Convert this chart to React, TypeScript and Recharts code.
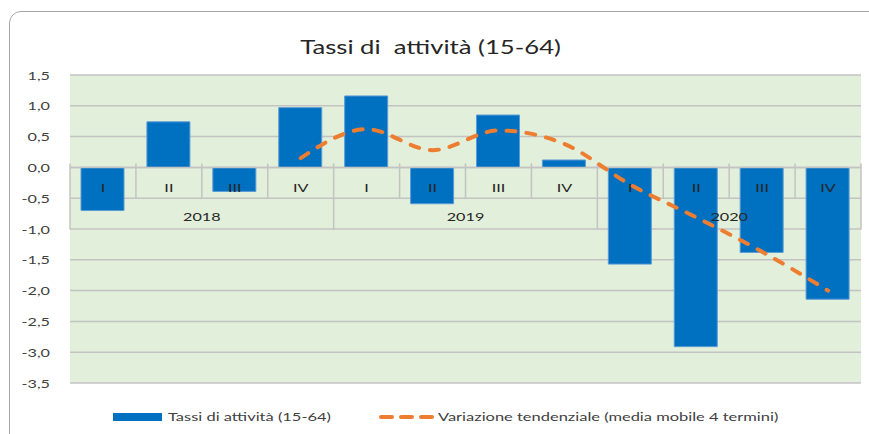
import React from 'react';
import { ComposedChart, Bar, Line, XAxis, YAxis, CartesianGrid, ReferenceLine, Legend } from 'recharts';

const quarters = ['I', 'II', 'III', 'IV', 'I', 'II', 'III', 'IV', 'I', 'II', 'III', 'IV'];
const years = ['2018', '2019', '2020'];
const tassi = [-0.7, 0.74, -0.39, 0.97, 1.16, -0.59, 0.85, 0.12, -1.57, -2.91, -1.38, -2.14];
const media: (number | null)[] = [null, null, null, 0.15, 0.62, 0.28, 0.6, 0.38, -0.28, -0.81, -1.37, -2.0];
const yTicks = [1.5, 1.0, 0.5, 0, -0.5, -1.0, -1.5, -2.0, -2.5, -3.0, -3.5];

const seriesBar = 'Tassi di attività (15-64)';
const seriesLine = 'Variazione tendenziale (media mobile 4 termini)';
const title = 'Tassi di  attività (15-64)';

const data = quarters.map((q, i) => ({
  key: `${years[Math.floor(i / 4)]}-${q}`,
  q,
  tassi: tassi[i],
  media: media[i],
}));

const FONT = 'Lato, "Open Sans", sans-serif';
const TEXT = '#404040';
const GRID = '#c3c3c3';
const SX = 1.35;

const STxt = ({ x, y, anchor, size, fill, children }: any) => (
  <text transform={`translate(${x},${y}) scale(${SX},1)`} textAnchor={anchor} dominantBaseline="central"
    fontFamily={FONT} fontSize={size} fill={fill}>{children}</text>
);

const YTick = (props: any) => {
  const { x, y, payload } = props;
  return <STxt x={x} y={y} anchor="end" size={12} fill={TEXT}>{Number(payload.value).toFixed(1).replace('.', ',')}</STxt>;
};

const CategoryAxis = (props: any) => {
  const { x1, x2, y1 } = props;
  const n = quarters.length;
  const band = (x2 - x1) / n;
  const rowH = 31;
  const els: React.ReactNode[] = [];
  els.push(<line key="base" x1={x1} x2={x2} y1={y1} y2={y1} stroke={GRID} strokeWidth={1.5} />);
  for (let i = 0; i <= n; i++) {
    const x = x1 + band * i;
    const isYear = i % 4 === 0;
    els.push(
      <line key={`s${i}`} x1={x} x2={x} y1={y1 - 4} y2={y1 + (isYear ? rowH * 2 : rowH)} stroke={GRID} strokeWidth={1.5} />
    );
  }
  quarters.forEach((q, i) => {
    els.push(<STxt key={`q${i}`} x={x1 + band * (i + 0.5)} y={y1 + 20} anchor="middle" size={12} fill="#262626">{q}</STxt>);
  });
  years.forEach((yr, j) => {
    els.push(<STxt key={`y${j}`} x={x1 + band * (j * 4 + 2)} y={y1 + 49} anchor="middle" size={12} fill="#262626">{yr}</STxt>);
  });
  return <g>{els}</g>;
};

const stretch = (origin: string): React.CSSProperties => ({
  display: 'inline-block', transform: `scaleX(${SX})`, transformOrigin: origin, whiteSpace: 'pre',
});

const LegendContent = () => (
  <div style={{ position: 'relative', width: 869, height: 24, fontFamily: FONT, fontSize: 12.2, color: TEXT }}>
    <div style={{ position: 'absolute', left: 113, top: 8, width: 49, height: 8, background: '#0070c0' }} />
    <div style={{ position: 'absolute', left: 168, top: 0, lineHeight: '24px' }}>
      <span style={stretch('left center')}>{seriesBar}</span>
    </div>
    <svg style={{ position: 'absolute', left: 378, top: 0 }} width={58} height={24}>
      <line x1={3} x2={56} y1={12} y2={12} stroke="#ed7d31" strokeWidth={4} strokeDasharray="11 9" strokeLinecap="round" />
    </svg>
    <div style={{ position: 'absolute', left: 438, top: 0, lineHeight: '24px' }}>
      <span style={stretch('left center')}>{seriesLine}</span>
    </div>
  </div>
);

export default function App() {
  return (
    <div style={{ position: 'absolute', left: 0, top: 0, width: 869, height: 434, background: '#fff', overflow: 'hidden' }}>
      <div style={{ position: 'absolute', left: 9, top: 11, width: 880, height: 440, border: '1.5px solid #a6a6a6', borderRadius: 12, boxSizing: 'border-box' }} />
      <div style={{ position: 'absolute', left: 0, top: 34, width: 861, textAlign: 'center', fontFamily: FONT, fontSize: 19, lineHeight: '26px', color: '#262626' }}>
        <span style={stretch('center center')}>{title}</span>
      </div>
      <div style={{ position: 'absolute', left: 0, top: 0 }}>
        <ComposedChart width={869} height={434} data={data} margin={{ top: 75, right: 8, bottom: 51, left: 0 }}>
          <CartesianGrid vertical={false} stroke={GRID} strokeWidth={1.5} fill="#e2efda" fillOpacity={1} />
          <XAxis dataKey="key" hide />
          <YAxis domain={[-3.5, 1.5]} ticks={yTicks} interval={0} width={70} axisLine={false} tickLine={false}
            tickSize={0} tickMargin={20} tick={YTick} />
          <Bar dataKey="tassi" name={seriesBar} fill="#0070c0" stroke="#5b9bd5" strokeWidth={1} barSize={43} isAnimationActive={false} />
          <ReferenceLine y={0} shape={CategoryAxis} ifOverflow="visible" />
          <Line dataKey="media" name={seriesLine} type="monotone" stroke="#ed7d31" strokeWidth={4}
            strokeDasharray="9 11" strokeLinecap="round" dot={false} activeDot={false} isAnimationActive={false} />
          <Legend layout="horizontal" verticalAlign="middle" align="center" content={LegendContent}
            wrapperStyle={{ top: 405, left: 0, width: 869, height: 24 }} />
        </ComposedChart>
      </div>
    </div>
  );
}
